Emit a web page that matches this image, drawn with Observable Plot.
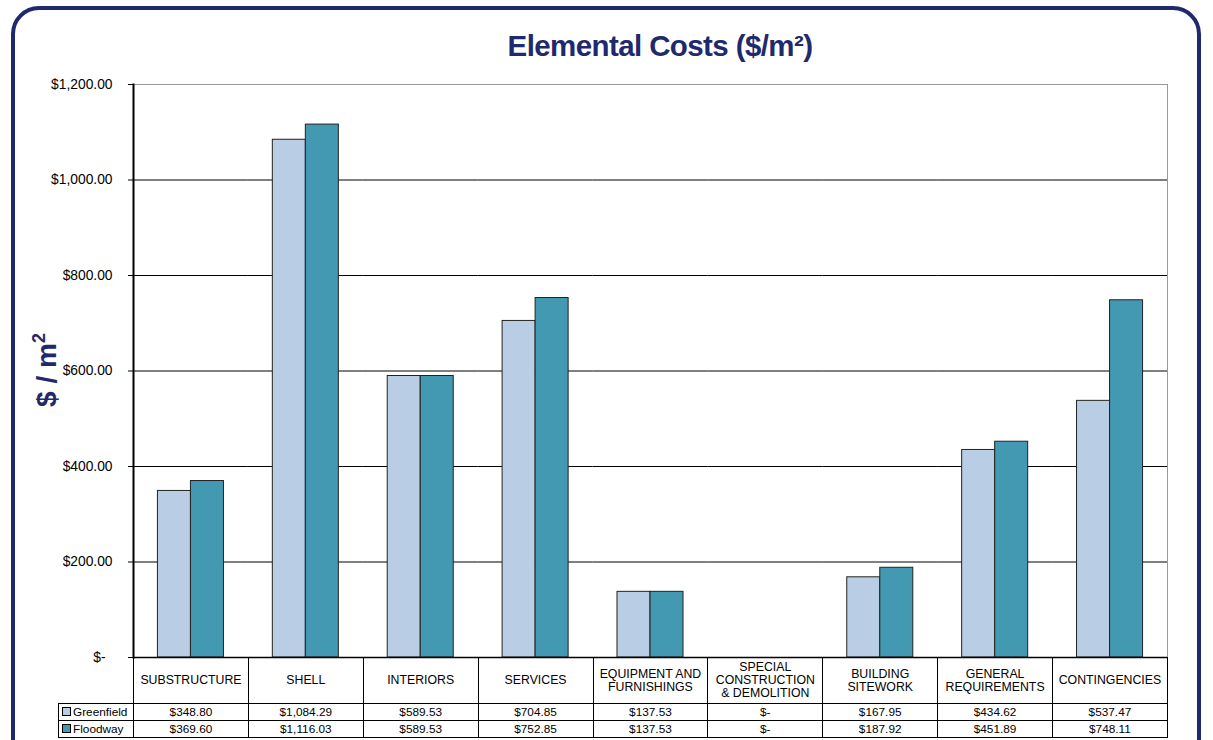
<!DOCTYPE html>
<html>
<head>
<meta charset="utf-8">
<script src="https://cdn.jsdelivr.net/npm/d3@7"></script>
<script src="https://cdn.jsdelivr.net/npm/@observablehq/plot@0.6"></script>
<style>
  html, body { margin: 0; padding: 0; background: #fff; overflow: hidden; }
  #page { position: relative; width: 1213px; height: 740px; overflow: hidden; font-family: "Liberation Sans", Arial, sans-serif; }
  #frame { position: absolute; left: 11px; top: 6px; width: 1190px; height: 780px; border: 4px solid #1f2a6e; border-radius: 28px; box-sizing: border-box; }
  #title { position: absolute; left: 0; width: 1320px; top: 29px; text-align: center; font-weight: bold; font-size: 29.5px; color: #1f2a6e; letter-spacing: -0.6px; }
  #ylabel { position: absolute; left: 46px; top: 370px; transform: translate(-50%, -50%) rotate(-90deg); white-space: nowrap; font-weight: bold; font-size: 28px; color: #1f2a6e; }
  #ylabel sup { font-size: 18px; }
  #chart { position: absolute; left: 0; top: 74px; }
  #tbl { position: absolute; left: 58px; top: 657px; border-collapse: collapse; table-layout: fixed; font-size: 11.8px; color: #000; }
  #tbl td { border: 1px solid #000; text-align: center; padding: 0 4px; line-height: 13px; }
  #tbl tr.head td { height: 45px; font-size: 12.3px; }
  #tbl tr.head td.blank { border: none; }
  #tbl tr.row td { height: 16px; }
  #tbl td.leg { text-align: left; font-size: 11.8px; white-space: nowrap; padding: 0 0 0 3px; }
  .sw { display: inline-block; width: 7px; height: 7px; border: 1px solid #000; margin-right: 2px; vertical-align: 0px; }
</style>
</head>
<body>
<div id="page">
  <div id="frame"></div>
  <div id="title">Elemental Costs ($/m²)</div>
  <div id="ylabel">$ / m<sup>2</sup></div>
  <div id="chart"></div>
  <table id="tbl"></table>
</div>
<script>
const categories = ["SUBSTRUCTURE", "SHELL", "INTERIORS", "SERVICES", "EQUIPMENT AND FURNISHINGS", "SPECIAL CONSTRUCTION & DEMOLITION", "BUILDING SITEWORK", "GENERAL REQUIREMENTS", "CONTINGENCIES"];
const series = ["Greenfield", "Floodway"];
const greenfield = [348.80, 1084.29, 589.53, 704.85, 137.53, 0, 167.95, 434.62, 537.47];
const floodway = [369.60, 1116.03, 589.53, 752.85, 137.53, 0, 187.92, 451.89, 748.11];
const yTicks = [0, 200, 400, 600, 800, 1000, 1200];
const colors = ["#b9cde5", "#4299b1"];

const data = [];
categories.forEach((c, i) => {
  data.push({category: c, series: "Greenfield", value: greenfield[i]});
  data.push({category: c, series: "Floodway", value: floodway[i]});
});

const money = v => v === 0 ? "$-" : "$" + d3.format(",.2f")(v);
const axisMoney = v => v === 0 ? "$-\u2002" : money(v);

const plot = Plot.plot({
  width: 1213,
  height: 600,
  marginTop: 10,
  marginBottom: 17,
  marginLeft: 133,
  marginRight: 46,
  style: {fontFamily: "'Liberation Sans', Arial, sans-serif", fontSize: "13.8px", color: "#000", background: "transparent"},
  fx: {domain: categories, padding: 0, round: false, axis: null},
  x: {domain: series, paddingInner: 0, paddingOuter: 0.74, round: false, axis: null},
  y: {domain: [0, 1200], ticks: yTicks, tickFormat: axisMoney, label: null},
  color: {domain: series, range: colors},
  marks: [
    Plot.frame({stroke: "#999", facet: "super"}),
    Plot.ruleY(yTicks.filter(d => d > 0 && d < 1200), {stroke: "#000", strokeWidth: 1}),
    Plot.barY(data, {fx: "category", x: "series", y: "value", fill: "series", stroke: "#222", strokeWidth: 1}),
    Plot.ruleY([0], {stroke: "#000", strokeWidth: 1.5}),
    Plot.frame({anchor: "left", stroke: "#000", strokeWidth: 2, facet: "super"}),
    Plot.axisY({ticks: yTicks, tickFormat: axisMoney, tickSize: 5, tickPadding: 16, label: null, stroke: "#000", fontSize: 13.8})
  ]
});
document.getElementById("chart").appendChild(plot);

// data table below the plot, built from the same arrays
const tbl = document.getElementById("tbl");
const colgroup = document.createElement("colgroup");
const c0 = document.createElement("col"); c0.style.width = "75px"; colgroup.appendChild(c0);
const step = (1213 - 133 - 46) / categories.length;
categories.forEach(() => { const c = document.createElement("col"); c.style.width = step + "px"; colgroup.appendChild(c); });
tbl.appendChild(colgroup);
tbl.style.width = (75 + step * categories.length) + "px";

const head = document.createElement("tr"); head.className = "head";
const blank = document.createElement("td"); blank.className = "blank"; head.appendChild(blank);
categories.forEach(c => {
  const td = document.createElement("td");
  td.textContent = c;
  head.appendChild(td);
});
tbl.appendChild(head);

[greenfield, floodway].forEach((vals, k) => {
  const tr = document.createElement("tr"); tr.className = "row";
  const leg = document.createElement("td"); leg.className = "leg";
  const sw = document.createElement("span"); sw.className = "sw"; sw.style.background = colors[k];
  leg.appendChild(sw);
  leg.appendChild(document.createTextNode(series[k]));
  tr.appendChild(leg);
  vals.forEach(v => {
    const td = document.createElement("td");
    td.textContent = money(v);
    tr.appendChild(td);
  });
  tbl.appendChild(tr);
});
</script>
</body>
</html>
